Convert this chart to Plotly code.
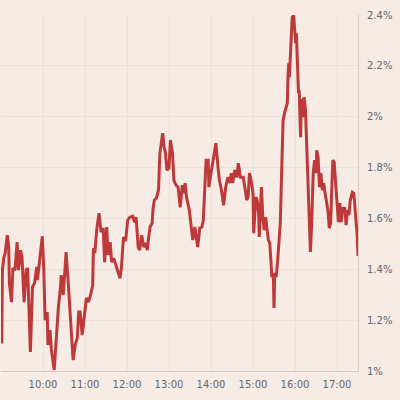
import plotly.graph_objects as go

times = ["09:00","09:01","09:02","09:04","09:06","09:09","09:11","09:12","09:15","09:17",
"09:20","09:23","09:25","09:28","09:30","09:33","09:36","09:38","09:42","09:45",
"09:48","09:51","09:52","09:54","09:58","09:59","10:01","10:03","10:06","10:07",
"10:10","10:12","10:16","10:19","10:22","10:25","10:26","10:29","10:31","10:33",
"10:36","10:38","10:41","10:43","10:46","10:49","10:51","10:53","10:56","10:58",
"11:02","11:05","11:08","11:11","11:12","11:14","11:17","11:20","11:23","11:26",
"11:28","11:31","11:33","11:36","11:38","11:41","11:44","11:47","11:50","11:52",
"11:55","11:58","12:01","12:04","12:08","12:11","12:13","12:16","12:18","12:21",
"12:24","12:27","12:29","12:31","12:33","12:36","12:37","12:39","12:42","12:45",
"12:47","12:49","12:51","12:53","12:55","12:57","13:00","13:02","13:05","13:07",
"13:10","13:13","13:16","13:19","13:21","13:23","13:25","13:29","13:32","13:34",
"13:37","13:39","13:41","13:44","13:47","13:49","13:51","13:53","13:56","13:57",
"14:00","14:02","14:05","14:07","14:10","14:12","14:15","14:18","14:21","14:24",
"14:27","14:29","14:31","14:34","14:37","14:39","14:42","14:46","14:49","14:51",
"14:53","14:55","14:58","15:00","15:01","15:04","15:06","15:08","15:09","15:11",
"15:12","15:14","15:16","15:18","15:20","15:22","15:24","15:26","15:27","15:29",
"15:30","15:31","15:33","15:35","15:37","15:39","15:41","15:43","15:45","15:47",
"15:49","15:50","15:51","15:52","15:54","15:56","15:58","16:00","16:01","16:02",
"16:03","16:05","16:06","16:08","16:09","16:11","16:12","16:13","16:15","16:17",
"16:19","16:22","16:24","16:26","16:28","16:30","16:31","16:33","16:35","16:37",
"16:39","16:41","16:43","16:45","16:47","16:49","16:51","16:52","16:54","16:56",
"16:58","17:00","17:02","17:04","17:06","17:08","17:10","17:11","17:13","17:15",
"17:17","17:19","17:22","17:24","17:26","17:29","17:30"]

values = [1.114,1.114,1.397,1.444,1.464,1.534,1.487,1.346,1.271,1.405,
1.397,1.507,1.397,1.475,1.448,1.271,1.397,1.405,1.075,1.330,
1.346,1.409,1.358,1.409,1.523,1.530,1.409,1.200,1.232,1.102,
1.161,1.083,1.004,1.149,1.251,1.330,1.377,1.299,1.377,1.468,
1.350,1.248,1.130,1.043,1.102,1.130,1.232,1.232,1.141,1.193,
1.287,1.271,1.299,1.338,1.483,1.464,1.562,1.621,1.546,1.562,
1.428,1.566,1.456,1.507,1.428,1.444,1.417,1.389,1.365,1.405,
1.527,1.511,1.593,1.605,1.609,1.585,1.605,1.487,1.475,1.534,
1.487,1.503,1.475,1.527,1.566,1.582,1.633,1.672,1.680,1.711,
1.857,1.896,1.935,1.880,1.857,1.790,1.798,1.908,1.857,1.750,
1.731,1.723,1.644,1.731,1.699,1.739,1.684,1.633,1.566,1.515,
1.566,1.527,1.487,1.562,1.566,1.593,1.711,1.829,1.829,1.723,
1.778,1.817,1.857,1.896,1.802,1.750,1.711,1.652,1.723,1.762,
1.739,1.778,1.739,1.790,1.762,1.817,1.762,1.762,1.711,1.672,
1.684,1.778,1.739,1.699,1.542,1.684,1.672,1.621,1.527,1.633,
1.723,1.605,1.554,1.605,1.566,1.515,1.503,1.436,1.369,1.385,
1.248,1.385,1.369,1.424,1.527,1.582,1.790,1.986,2.014,2.037,
2.053,2.155,2.210,2.155,2.312,2.391,2.399,2.340,2.289,2.328,
2.261,2.092,2.104,1.919,2.065,2.065,1.998,2.077,2.026,1.868,
1.660,1.468,1.593,1.778,1.829,1.778,1.868,1.841,1.723,1.778,
1.711,1.739,1.699,1.672,1.633,1.562,1.582,1.672,1.829,1.821,
1.750,1.672,1.585,1.660,1.585,1.644,1.625,1.644,1.574,1.633,
1.613,1.672,1.703,1.699,1.633,1.527,1.452]

day = "2024-01-01 "
x = [day + t for t in times]

BG = "#f6ebe5"
GRID = "#eee0d6"
AXIS = "#d9c8be"
TXT = "#666666"

fig = go.Figure(go.Scatter(
    x=x, y=values, mode="lines",
    line=dict(color="#be3a3a", width=3),
    hoverinfo="skip",
))

fig.update_layout(
    width=400, height=400,
    margin=dict(l=1, r=42, t=15, b=29),
    paper_bgcolor=BG, plot_bgcolor=BG,
    showlegend=False,
    font=dict(family="DejaVu Sans", size=10, color=TXT),
)
fig.update_xaxes(
    range=[day + "09:00", day + "17:30"],
    dtick=3600000, tick0=day + "10:00", tickformat="%H:%M",
    showgrid=True, gridcolor=GRID, gridwidth=1,
    showline=True, linecolor=AXIS, linewidth=1,
    ticks="", zeroline=False, ticklabelstandoff=4,
)
fig.update_yaxes(
    side="right", range=[1, 2.4], dtick=0.2, tick0=1,
    ticksuffix="%",
    showgrid=True, gridcolor=GRID, gridwidth=1,
    showline=True, linecolor=AXIS, linewidth=1,
    ticks="", zeroline=False, ticklabelstandoff=6,
)

fig.write_html(
    "out.html",
    config={"displayModeBar": False},
    post_script="document.body.style.margin='0';document.body.style.background='" + BG + "';",
)
